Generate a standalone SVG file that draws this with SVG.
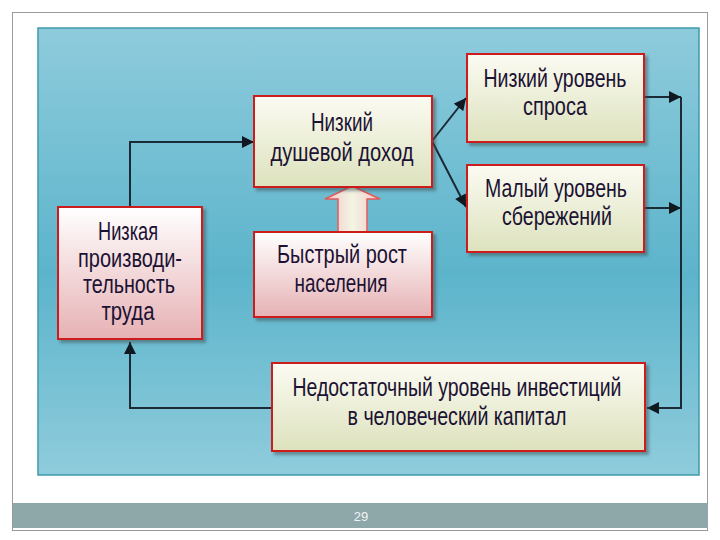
<svg xmlns="http://www.w3.org/2000/svg" width="720" height="540" viewBox="0 0 720 540">
<style>
.node{stroke:#cc1a1f;stroke-width:2;filter:url(#sh)}
.g{fill:url(#gGreen)}
.p{fill:url(#gPink)}
.t{font-family:"Liberation Sans",Arial,sans-serif;font-size:25px;fill:#1c1233;text-anchor:middle}
.c{fill:none;stroke:#1c2a36;stroke-width:2}
</style>
<defs>
<linearGradient id="bg" x1="0" y1="0" x2="0" y2="1">
<stop offset="0" stop-color="#8ecbdc"/>
<stop offset="0.55" stop-color="#5cb4cb"/>
<stop offset="1" stop-color="#8fccdc"/>
</linearGradient>
<linearGradient id="gGreen" x1="0" y1="0" x2="0" y2="1">
<stop offset="0" stop-color="#fbfbf2"/>
<stop offset="1" stop-color="#dde2bd"/>
</linearGradient>
<linearGradient id="gPink" x1="0" y1="0" x2="0" y2="1">
<stop offset="0" stop-color="#ffffff"/>
<stop offset="1" stop-color="#e6b1b4"/>
</linearGradient>
<linearGradient id="gArrow" x1="0" y1="0" x2="1" y2="0">
<stop offset="0" stop-color="#f2c4c4"/>
<stop offset="0.5" stop-color="#f3f5e4"/>
<stop offset="1" stop-color="#f2c4c4"/>
</linearGradient>
<filter id="sh" x="-10%" y="-10%" width="130%" height="130%">
<feDropShadow dx="3" dy="3" stdDeviation="1.5" flood-color="#3a4a50" flood-opacity="0.5"/>
</filter>
<marker id="ahb" viewBox="0 0 10 10" refX="10" refY="5" markerWidth="13" markerHeight="12" markerUnits="userSpaceOnUse" orient="auto">
<path d="M0,0 L10,5 L0,10 z" fill="#101820"/>
</marker>
</defs>

<rect x="0" y="0" width="720" height="540" fill="#ffffff"/>
<rect x="12.5" y="12.5" width="695" height="518" fill="#ffffff" stroke="#9a9a9a" stroke-width="1"/>
<rect x="38" y="28" width="661" height="447" fill="url(#bg)" stroke="#3f9aaa" stroke-width="1.5"/>
<rect x="13" y="503" width="695" height="25" fill="#8ea7a8"/>
<text x="361" y="521" font-family="Liberation Sans,Arial,sans-serif" font-size="13" fill="#f0f4f4" text-anchor="middle">29</text>

<g id="connectors">
<polyline class="c" points="130,207 130,142 254,142" marker-end="url(#ahb)"/>
<line class="c" x1="432" y1="141" x2="466" y2="98" marker-end="url(#ahb)"/>
<line class="c" x1="432" y1="141" x2="466" y2="207" marker-end="url(#ahb)"/>
<line class="c" x1="644" y1="97" x2="681" y2="97" marker-end="url(#ahb)"/>
<line class="c" x1="644" y1="208" x2="681" y2="208" marker-end="url(#ahb)"/>
<polyline class="c" points="681,97 681,408 647,408" marker-end="url(#ahb)"/>
<polyline class="c" points="272,408 130,408 130,342" marker-end="url(#ahb)"/>
</g>

<g id="arrow-growth">
<polygon points="352,186 380,199 367,199 367,234 338,234 338,199 325,199" fill="url(#gArrow)" stroke="#e25b5b" stroke-width="1.5"/>
</g>

<g id="n-income">
<rect class="node g" x="254" y="96" width="178" height="91"/>
<text class="t" x="342" y="131" textLength="62" lengthAdjust="spacingAndGlyphs">Низкий</text>
<text class="t" x="342" y="161" textLength="143" lengthAdjust="spacingAndGlyphs">душевой доход</text>
</g>

<g id="n-demand">
<rect class="node g" x="467" y="54" width="177" height="88"/>
<text class="t" x="555" y="87" textLength="143" lengthAdjust="spacingAndGlyphs">Низкий уровень</text>
<text class="t" x="555" y="115" textLength="64" lengthAdjust="spacingAndGlyphs">спроса</text>
</g>

<g id="n-savings">
<rect class="node g" x="467" y="165" width="177" height="87"/>
<text class="t" x="556" y="197" textLength="142" lengthAdjust="spacingAndGlyphs">Малый уровень</text>
<text class="t" x="557" y="225" textLength="110" lengthAdjust="spacingAndGlyphs">сбережений</text>
</g>

<g id="n-productivity">
<rect class="node p" x="58" y="207" width="144" height="132"/>
<text class="t" x="128" y="240" textLength="60" lengthAdjust="spacingAndGlyphs">Низкая</text>
<text class="t" x="130" y="267" textLength="104" lengthAdjust="spacingAndGlyphs">производи-</text>
<text class="t" x="129" y="293" textLength="92" lengthAdjust="spacingAndGlyphs">тельность</text>
<text class="t" x="128" y="320" textLength="53" lengthAdjust="spacingAndGlyphs">труда</text>
</g>

<g id="n-population">
<rect class="node p" x="254" y="232" width="178" height="85"/>
<text class="t" x="342" y="263" textLength="130" lengthAdjust="spacingAndGlyphs">Быстрый рост</text>
<text class="t" x="341" y="292" textLength="93" lengthAdjust="spacingAndGlyphs">населения</text>
</g>

<g id="n-investment">
<rect class="node g" x="272" y="363" width="373" height="88"/>
<text class="t" x="457" y="396" textLength="329" lengthAdjust="spacingAndGlyphs">Недостаточный уровень инвестиций</text>
<text class="t" x="457" y="425" textLength="219" lengthAdjust="spacingAndGlyphs">в человеческий капитал</text>
</g>
</svg>
